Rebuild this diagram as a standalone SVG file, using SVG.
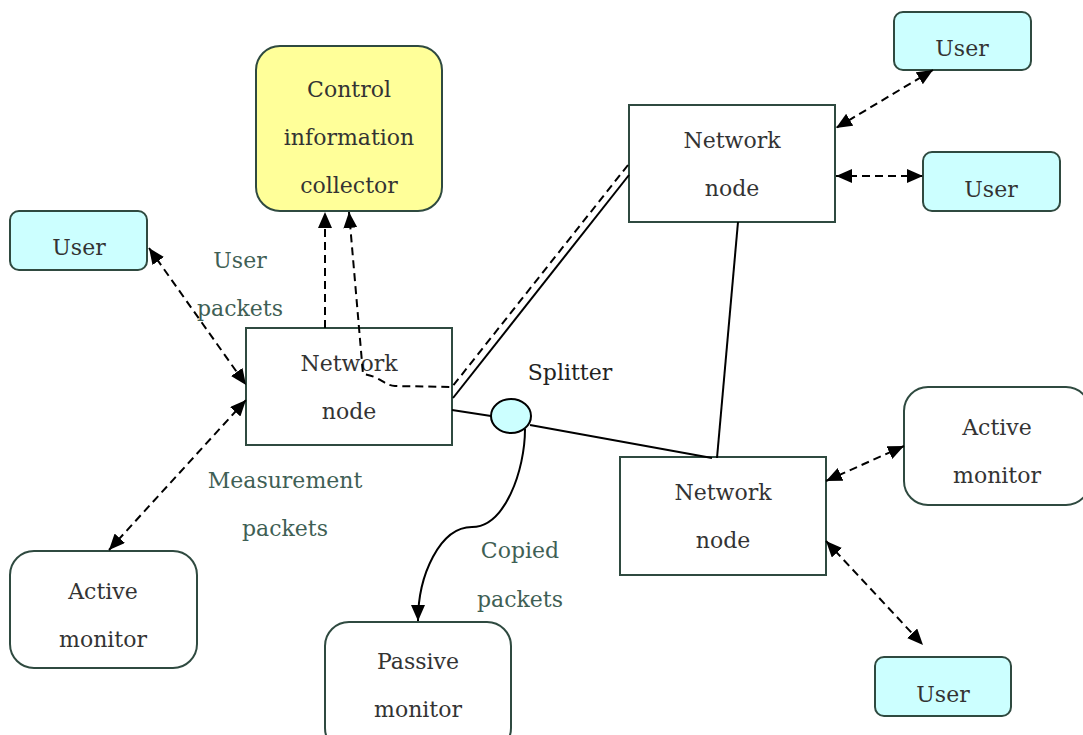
<svg xmlns="http://www.w3.org/2000/svg" width="1083" height="735" viewBox="0 0 1083 735">
<style>
.box{stroke:#2f4a40;stroke-width:2}
.user{fill:#ccffff}
.white{fill:#ffffff}
.yel{fill:#ffff99}
.t{font-family:"DejaVu Serif","Liberation Serif",serif;font-size:22px;fill:#333333;text-anchor:middle}
.lbl{font-family:"DejaVu Serif","Liberation Serif",serif;font-size:22px;fill:#3f5f55;text-anchor:middle}
.c{fill:none;stroke:#000;stroke-width:2}
.d{stroke-dasharray:8 5}
</style>
<defs>
<marker id="ah" markerUnits="userSpaceOnUse" markerWidth="16" markerHeight="14" refX="16" refY="7" orient="auto-start-reverse" viewBox="0 0 16 14">
<path d="M0,0 L16,7 L0,14 z" fill="#000"/>
</marker>
</defs>
<rect width="1083" height="735" fill="#ffffff"/>
<g id="collector">
<rect class="box yel" x="256" y="46" width="186" height="165" rx="24"/>
<text class="t" x="349" y="97">Control</text>
<text class="t" x="349" y="145">information</text>
<text class="t" x="349" y="193">collector</text>
</g>
<g id="user1">
<rect class="box user" x="894" y="12" width="137" height="58" rx="9"/>
<text class="t" x="962" y="56">User</text>
</g>
<g id="user2">
<rect class="box user" x="923" y="152" width="137" height="59" rx="9"/>
<text class="t" x="991" y="197">User</text>
</g>
<g id="user3">
<rect class="box user" x="10" y="211" width="137" height="59" rx="9"/>
<text class="t" x="79" y="255">User</text>
</g>
<g id="user4">
<rect class="box user" x="875" y="657" width="136" height="59" rx="9"/>
<text class="t" x="943" y="702">User</text>
</g>
<g id="nn-top">
<rect class="box white" x="629" y="105" width="206" height="117"/>
<text class="t" x="732" y="148">Network</text>
<text class="t" x="732" y="196">node</text>
</g>
<g id="nn-left">
<rect class="box white" x="246" y="328" width="206" height="117"/>
<text class="t" x="349" y="371">Network</text>
<text class="t" x="349" y="419">node</text>
</g>
<g id="nn-bottom">
<rect class="box white" x="620" y="457" width="206" height="118"/>
<text class="t" x="723" y="500">Network</text>
<text class="t" x="723" y="548">node</text>
</g>
<g id="am-right">
<rect class="box white" x="904" y="387" width="186" height="118" rx="24"/>
<text class="t" x="997" y="435">Active</text>
<text class="t" x="997" y="483">monitor</text>
</g>
<g id="am-left">
<rect class="box white" x="10" y="551" width="187" height="117" rx="24"/>
<text class="t" x="103" y="599">Active</text>
<text class="t" x="103" y="647">monitor</text>
</g>
<g id="passive">
<rect class="box white" x="325" y="622" width="186" height="130" rx="24"/>
<text class="t" x="418" y="669">Passive</text>
<text class="t" x="418" y="717">monitor</text>
</g>
<g id="connectors">
<line class="c d" x1="149" y1="248" x2="246" y2="385" marker-start="url(#ah)" marker-end="url(#ah)"/>
<line class="c d" x1="109" y1="550" x2="246" y2="400" marker-start="url(#ah)" marker-end="url(#ah)"/>
<line class="c d" x1="325" y1="328" x2="325" y2="212" marker-end="url(#ah)"/>
<path class="c d" d="M628,165 L452,387 L395,386 C385,386 380,376 363,374 L349,212" marker-end="url(#ah)"/>
<line class="c" x1="453" y1="398" x2="629" y2="175"/>
<line class="c" x1="452" y1="410" x2="491" y2="416"/>
<line class="c" x1="530" y1="425" x2="712" y2="458"/>
<line class="c" x1="738" y1="222" x2="717" y2="458"/>
<path class="c" d="M525,429 C525,470 505,527 472,527 C440,527 418,575 418,621" marker-end="url(#ah)"/>
<line class="c d" x1="933" y1="70" x2="836" y2="128" marker-start="url(#ah)" marker-end="url(#ah)"/>
<line class="c d" x1="836" y1="176" x2="923" y2="176" marker-start="url(#ah)" marker-end="url(#ah)"/>
<line class="c d" x1="826" y1="481" x2="904" y2="446" marker-start="url(#ah)" marker-end="url(#ah)"/>
<line class="c d" x1="826" y1="541" x2="923" y2="645" marker-start="url(#ah)" marker-end="url(#ah)"/>
</g>
<g id="splitter">
<ellipse class="c" cx="511" cy="416" rx="20" ry="17" style="fill:#ccffff"/>
<text class="t" x="570" y="380" style="fill:#222">Splitter</text>
</g>
<g id="labels">
<text class="lbl" x="240" y="268">User</text>
<text class="lbl" x="240" y="316">packets</text>
<text class="lbl" x="285" y="488">Measurement</text>
<text class="lbl" x="285" y="536">packets</text>
<text class="lbl" x="520" y="558">Copied</text>
<text class="lbl" x="520" y="607">packets</text>
</g>
</svg>
